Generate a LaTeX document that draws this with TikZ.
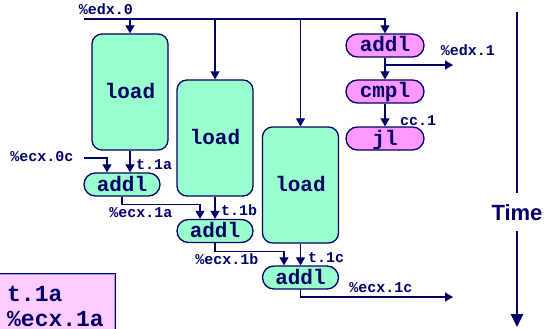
\documentclass[tikz,border=0pt]{standalone}
\usepackage{fontspec}
\newfontfamily\monob{Liberation Mono}
\newfontfamily\sansb{Liberation Sans}
\usetikzlibrary{arrows.meta,calc}
\definecolor{navy}{HTML}{000066}
\definecolor{greenf}{HTML}{99FFCC}
\definecolor{pinkf}{HTML}{FF99FF}
\definecolor{keyf}{HTML}{FFCCFF}
\definecolor{keyin}{HTML}{9999DD}
\begin{document}
\begin{tikzpicture}[x=1pt,y=-1pt,
  conn/.style={draw=navy,line width=1.2pt},
  arr/.style={conn,-{Triangle[length=8pt,width=9pt]}},
  boxfont/.style={font=\monob\bfseries\fontsize{21}{21}\selectfont,text=navy,text height=13pt,text depth=0pt},
  loadbox/.style={boxfont,draw=navy,line width=1.3pt,fill=greenf,rounded corners=10pt,
    minimum width=76pt,minimum height=116pt,inner sep=0pt},
  opg/.style={boxfont,draw=navy,line width=1.3pt,fill=greenf,rounded corners=11.5pt,
    minimum width=76pt,minimum height=23pt,inner sep=0pt},
  opp/.style={opg,fill=pinkf,minimum width=78pt},
  lbl/.style={font=\monob\bfseries\fontsize{15}{15}\selectfont,text=navy,inner sep=0pt},
  keytext/.style={font=\monob\bfseries\fontsize{23}{23}\selectfont,text=navy,inner sep=0pt,
    text height=15pt,text depth=0pt},
]
\useasboundingbox (0,0) rectangle (544,329);

% load boxes
\node[loadbox] (load1) at (130,92) {load};
\node[loadbox] (load2) at (215,138) {load};
\node[loadbox] (load3) at (300.5,185) {load};

% integer ops
\node[opp] (addlA) at (385,45.5) {addl};
\node[opp] (cmpl) at (385,91.5) {cmpl};
\node[opp] (jl) at (385,138.5) {jl};

% addl chain
\node[opg] (addl1) at (122,184.5) {addl};
\node[opg] (addl2) at (215,231) {addl};
\node[opg] (addl3) at (300.5,277.5) {addl};

% free ends
\coordinate (edx0) at (84,19);
\coordinate (edx1) at (453,65);
\coordinate (ecx0) at (84,158);
\coordinate (ecx1c) at (453,297);

% edx.0 distribution
\draw[arr] (edx0) -| (addlA.north);
\draw[arr] (load1.north |- edx0) -- (load1.north);
\draw[arr] (load2.north |- edx0) -- (load2.north);
\draw[arr] (load3.north |- edx0) -- (load3.north);
\node[lbl,anchor=base] (ledx0) at (106,15) {\%edx.0};

% pink chain
\draw[arr] (addlA.south) -- (cmpl.north);
\draw[arr] (addlA.south) |- (edx1);
\node[lbl,anchor=base] (ledx1) at (468,56) {\%edx.1};
\draw[arr] (cmpl.south) -- (jl.north);
\node[lbl,anchor=base] (lcc) at (418,125) {cc.1};

% addl1
\draw[arr] (ecx0) -| ([xshift=-15pt]addl1.north);
\node[lbl,anchor=base] (lecx0) at (42,161) {\%ecx.0c};
\draw[arr] (load1.south) -- (load1.south |- addl1.north);
\node[lbl,anchor=base west] (lt1a) at (136,169) {t.1a};

% addl2
\draw[arr] (addl1.south) -- ++(0,8) -| ([xshift=-15pt]addl2.north);
\node[lbl,anchor=base] (lecx1a) at (141,217.5) {\%ecx.1a};
\draw[arr] (load2.south) -- (addl2.north);
\node[lbl,anchor=base west] (lt1b) at (221,215) {t.1b};

% addl3
\draw[arr] (addl2.south) -- ++(0,8) -| ([xshift=-16.5pt]addl3.north);
\node[lbl,anchor=base] (lecx1b) at (227,264) {\%ecx.1b};
\draw[arr] (load3.south) -- (addl3.north);
\node[lbl,anchor=base west] (lt1c) at (308,262) {t.1c};

% output
\draw[arr] (addl3.south) |- (ecx1c);
\node[lbl,anchor=base] (lecx1c) at (381,292) {\%ecx.1c};

% time axis
\coordinate (ttop) at (517,12);
\coordinate (tbot) at (517,327);
\node[font=\sansb\bfseries\fontsize{22}{22}\selectfont,text=navy,inner xsep=0pt,inner ysep=10.5pt,
  text height=17pt,text depth=0pt] (time) at (517,212) {Time};
\draw[draw=navy,line width=2.6pt] (ttop) -- (time.north);
\draw[draw=navy,line width=2.6pt,-{Triangle[length=13pt,width=12pt]}] (time.south) -- (tbot);

% key box
\node[draw=navy,line width=1pt,fill=keyf,anchor=north west,minimum width=120pt,minimum height=70pt,
  inner sep=0pt] (key) at (-5,273) {};
\draw[keyin,line width=1.2pt] ([xshift=-1.6pt,yshift=-1.6pt]key.north east) -- ([xshift=-1.6pt]key.south east);
\draw[keyin,line width=1.2pt] ([yshift=-1.6pt]key.north west) -- ([xshift=-1.6pt,yshift=-1.6pt]key.north east);
\node[keytext,anchor=base west] (k1) at (7,301) {t.1a};
\node[keytext,anchor=base west] (k2) at (7,326) {\%ecx.1a};
\end{tikzpicture}
\end{document}
